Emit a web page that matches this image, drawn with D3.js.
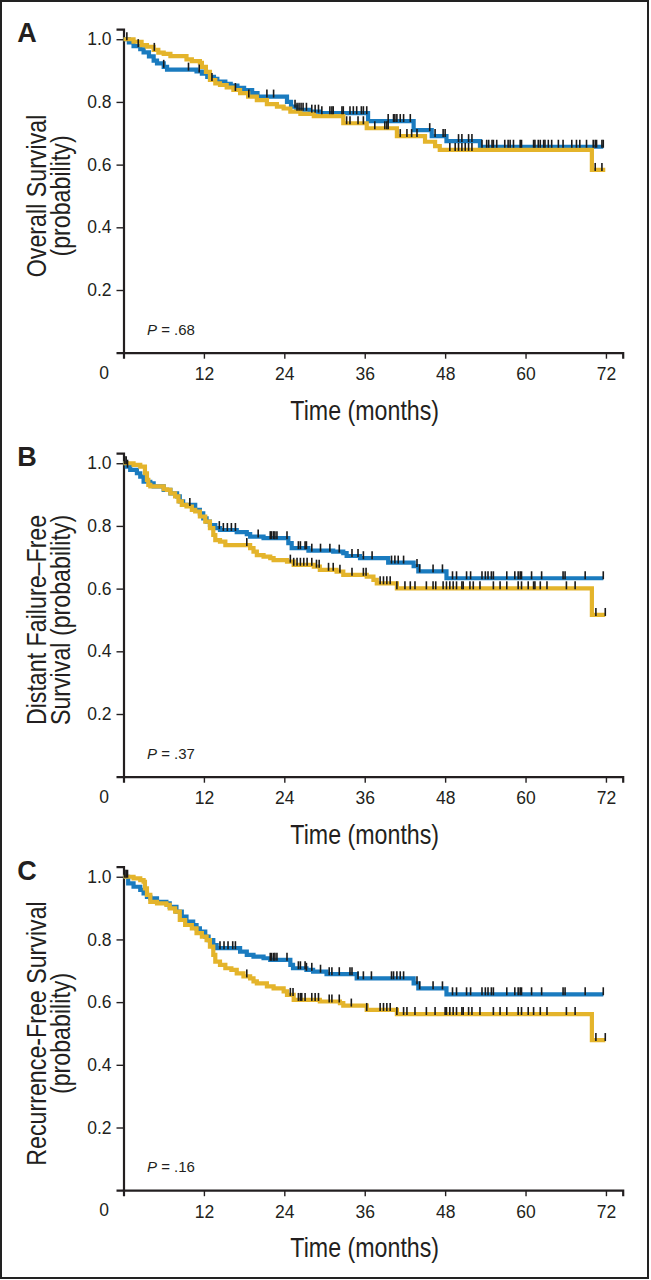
<!DOCTYPE html>
<html><head><meta charset="utf-8">
<script src="https://cdn.jsdelivr.net/npm/d3@7"></script>
<style>
html,body{margin:0;padding:0;background:#fff;}
svg{display:block;}
</style></head>
<body>
<svg id="chart" width="651" height="1280"></svg>
<script>
// ---------------- DATA ----------------
const panelLetters = ["A", "B", "C"];
const yTitles = [
  ["Overall Survival", "(probability)"],
  ["Distant Failure\u2013Free", "Survival (probability)"],
  ["Recurrence-Free Survival", "(probability)"]
];
const pValues = [".68", ".37", ".16"];
const xTickValues = [12, 24, 36, 48, 60, 72];
const xZeroLabel = "0";
const yTickValues = [0.2, 0.4, 0.6, 0.8, 1.0];
const xTitle = "Time (months)";

// Panel A – Overall survival
const osBlue = [[0,1],[0.8,0.99],[1.5,0.978],[2.5,0.968],[3,0.958],[3.8,0.945],[4.5,0.932],[5,0.923],[6,0.912],[6.5,0.903],[10.9,0.897],[11.7,0.89],[12.5,0.88],[13.5,0.874],[14,0.865],[15.2,0.858],[16,0.852],[17,0.845],[18,0.838],[19.2,0.828],[20,0.817],[24.4,0.80],[25,0.785],[25.8,0.775],[27.8,0.769],[29.3,0.764],[36.5,0.739],[43.3,0.71],[46,0.691],[48.2,0.675],[53.2,0.657]];
const osBlueEnd = 71.6;
const osYellow = [[0,1],[1.5,0.992],[2.7,0.981],[3.5,0.976],[4.5,0.966],[5.2,0.957],[6,0.953],[7,0.946],[9.4,0.936],[10.2,0.93],[11.4,0.925],[11.7,0.912],[12.3,0.896],[12.9,0.87],[13.7,0.859],[14.4,0.854],[15.4,0.846],[16.4,0.838],[17.4,0.828],[18.6,0.817],[19.9,0.806],[21.4,0.793],[22.9,0.785],[23.9,0.779],[24.9,0.769],[26.4,0.762],[28.4,0.755],[32.8,0.732],[36.3,0.716],[40.8,0.691],[45,0.673],[46.5,0.659],[47.2,0.647],[69.9,0.583]];
const osYellowEnd = 71.9;
const osBlueCensor = [0.5,2.2,6.0,9.7,11.3,21.4,22.4,25.6,25.9,26.2,26.5,26.8,27.3,28.1,28.6,29.1,29.6,30.8,31.1,31.3,32.6,32.8,33.8,34.3,34.8,35.5,35.8,36.3,39.5,40.3,40.5,40.8,41.3,41.8,42.8,45.7,46.5,47.7,48.0,50.0,50.5,51.5,52.0,53.5,54.2,54.5,55.0,55.2,55.7,56.9,57.4,57.7,58.2,59.2,59.4,61.2,61.4,61.9,62.2,62.7,62.9,63.4,63.9,64.9,65.6,66.9,67.6,68.1,69.1,70.1,70.4,70.6,71.4,71.6];
const osYellowCensor = [4.6,13.2,16.7,18.7,33.3,33.8,35.0,35.8,37.5,39.0,39.3,39.5,41.3,42.3,43.0,43.8,48.7,49.5,50.0,50.5,51.0,51.5,52.0,70.4,71.4];

// Panel B – Distant failure-free survival
const dffsBlue = [[0,1],[0.5,0.989],[1,0.979],[2,0.968],[2.5,0.957],[3,0.941],[4,0.936],[4.5,0.926],[6,0.915],[7,0.904],[8,0.894],[8.4,0.878],[8.9,0.867],[10.7,0.851],[11.4,0.84],[11.9,0.824],[12.4,0.814],[12.9,0.803],[13.7,0.793],[14.4,0.787],[16.9,0.78],[18.4,0.774],[18.9,0.766],[20.9,0.761],[24.6,0.745],[25.1,0.729],[27.6,0.721],[31.3,0.718],[32.8,0.713],[33.3,0.704],[35.3,0.697],[39.5,0.683],[43.3,0.672],[44.0,0.655],[48.2,0.633]];
const dffsBlueEnd = 71.6;
const dffsYellow = [[0,1],[1.5,0.995],[2.5,0.989],[3.2,0.968],[3.5,0.947],[3.7,0.931],[4,0.926],[6,0.917],[6.5,0.915],[7,0.904],[7.7,0.894],[8.2,0.878],[8.7,0.867],[9.4,0.862],[10.2,0.851],[10.7,0.846],[11.4,0.83],[12.2,0.814],[12.9,0.793],[13.4,0.771],[13.7,0.755],[14.4,0.75],[15.2,0.739],[18.9,0.729],[19.4,0.718],[19.9,0.707],[20.9,0.702],[21.9,0.697],[22.4,0.691],[24.4,0.686],[25.4,0.676],[28.4,0.67],[29.3,0.66],[31.8,0.654],[32.8,0.644],[36.3,0.638],[37.3,0.628],[37.8,0.617],[40.8,0.601],[69.9,0.516]];
const dffsYellowEnd = 71.9;
const dffsBlueCensor = [0.2,0.4,0.6,9.9,14.3,14.9,15.5,16.1,16.7,20.1,21.9,22.1,22.4,22.6,22.9,24.4,26.1,26.4,27.1,27.3,28.1,29.4,30.8,32.2,34.1,35.0,35.8,37.1,40.0,40.5,41.0,41.8,43.8,44.2,46.2,47.6,49.1,49.7,51.2,51.8,53.5,54.0,54.4,54.9,55.2,57.2,58.4,58.9,59.2,59.4,60.9,62.4,65.6,65.9,68.9,71.6];
const dffsYellowCensor = [18.4,24.9,25.4,25.9,26.4,26.9,27.4,28.1,28.8,29.2,30.6,31.3,32.3,34.1,35.8,36.2,38.3,38.8,39.3,39.8,40.8,42.0,42.8,43.5,45.2,46.2,46.6,47.7,48.2,48.7,49.2,49.7,50.5,50.7,51.7,52.2,53.2,55.2,56.2,57.2,58.9,59.4,60.4,61.2,61.4,62.2,63.2,66.1,67.4,70.5,71.9];

// Panel C – Recurrence-free survival
const rfsBlue = [[0,1],[0.7,0.979],[1.5,0.968],[2.5,0.958],[3,0.947],[3.5,0.936],[4,0.931],[5,0.92],[6.4,0.915],[6.9,0.904],[7.9,0.889],[8.7,0.873],[9.4,0.857],[10.4,0.846],[10.9,0.835],[11.4,0.825],[12.2,0.809],[12.7,0.798],[13.4,0.782],[13.9,0.772],[17.4,0.761],[18.4,0.751],[19.4,0.745],[20.9,0.74],[21.9,0.735],[24.9,0.719],[25.3,0.708],[27.3,0.703],[28.3,0.697],[30.3,0.689],[34.8,0.676],[43.3,0.66],[44.0,0.644],[48.2,0.625]];
const rfsBlueEnd = 71.6;
const rfsYellow = [[0,1],[1.5,0.995],[2.5,0.989],[3,0.984],[3.2,0.963],[3.5,0.942],[4,0.92],[5,0.915],[6.4,0.91],[6.9,0.899],[7.7,0.889],[8.4,0.862],[9.2,0.846],[10.2,0.835],[10.9,0.82],[11.7,0.809],[12.4,0.798],[12.9,0.777],[13.4,0.751],[13.7,0.729],[14.4,0.719],[15.2,0.708],[16.1,0.703],[16.9,0.692],[17.9,0.682],[18.9,0.676],[19.4,0.666],[19.9,0.66],[21.4,0.65],[22.4,0.644],[23.9,0.634],[24.4,0.623],[25.4,0.607],[29.3,0.602],[32.3,0.597],[32.8,0.589],[36.3,0.575],[40.8,0.562],[69.9,0.479]];
const rfsYellowEnd = 71.9;
const rfsBlueCensor = [0.2,0.4,0.6,14.4,15.0,15.6,16.3,16.7,21.9,22.1,22.4,22.6,22.9,24.4,26.1,26.4,27.1,27.3,28.1,29.4,30.7,31.1,32.2,33.8,34.1,35.0,35.8,37.0,40.0,40.3,40.8,41.3,41.8,43.8,44.2,46.2,47.6,49.1,49.7,51.2,51.8,53.5,54.0,54.4,54.9,55.2,57.2,58.4,58.9,59.2,59.4,60.9,62.4,65.6,65.9,68.9,71.6];
const rfsYellowCensor = [18.4,24.9,25.3,26.1,26.4,26.6,27.1,28.1,28.6,29.1,30.7,31.1,32.2,34.0,36.3,38.3,38.8,39.3,39.8,40.8,41.8,42.3,43.5,45.2,46.5,48.0,48.2,48.7,49.2,49.7,50.5,50.7,51.5,52.0,53.2,55.2,56.2,57.2,58.9,59.4,60.4,61.2,62.2,63.2,66.1,67.4,70.5,71.9];

// ---------------- LAYOUT / STYLE ----------------
const BLUE = "#1a7bbf", YELLOW = "#e4b42b", AXIS = "#231f20";
const FONT = "Liberation Sans, Arial, Helvetica, sans-serif";
const panelTops = [0, 424, 837.5];
const panels = [
  {blue: osBlue, blueEnd: osBlueEnd, yellow: osYellow, yellowEnd: osYellowEnd, bc: osBlueCensor, yc: osYellowCensor},
  {blue: dffsBlue, blueEnd: dffsBlueEnd, yellow: dffsYellow, yellowEnd: dffsYellowEnd, bc: dffsBlueCensor, yc: dffsYellowCensor},
  {blue: rfsBlue, blueEnd: rfsBlueEnd, yellow: rfsYellow, yellowEnd: rfsYellowEnd, bc: rfsBlueCensor, yc: rfsYellowCensor}
];

const svg = d3.select("#chart");
svg.append("rect").attr("x", 0).attr("y", 0).attr("width", 651).attr("height", 1280).attr("fill", "#fff");
svg.append("rect").attr("x", 1).attr("y", 1).attr("width", 647).attr("height", 1277)
  .attr("fill", "none").attr("stroke", "#222").attr("stroke-width", 2);

const x = d3.scaleLinear().domain([0, 74.5]).range([123.5, 622.7]);
const y = d3.scaleLinear().domain([0, 1.032]).range([352.7, 29.2]);

function survAt(curve, t) {
  let s = curve[0][1];
  for (const p of curve) { if (p[0] <= t) s = p[1]; else break; }
  return s;
}

const line = d3.line().x(d => x(d[0])).y(d => y(d[1])).curve(d3.curveStepAfter);
const SX = 0.86; // horizontal condensing for the axis titles

panels.forEach((p, i) => {
  const g = svg.append("g").attr("transform", `translate(0,${panelTops[i]})`);

  // panel letter
  g.append("text").attr("x", 27).attr("y", 42).attr("text-anchor", "middle")
    .attr("font-family", FONT).attr("font-weight", "bold")
    .attr("font-size", 27).attr("fill", AXIS).text(panelLetters[i]);

  // axes
  const yAxis = d3.axisLeft(y).tickValues(yTickValues).tickFormat(d3.format(".1f")).tickSizeOuter(0).tickSize(7).tickPadding(5);
  const xAxis = d3.axisBottom(x).tickValues(xTickValues).tickFormat(d3.format("d")).tickSizeOuter(0).tickSize(6).tickPadding(6);
  const ya = g.append("g").attr("transform", `translate(${x(0)},0)`).call(yAxis);
  const xa = g.append("g").attr("transform", `translate(0,${y(0)})`).call(xAxis);
  [ya, xa].forEach(a => {
    a.attr("font-family", FONT).attr("font-size", 17.5);
    a.select(".domain").attr("stroke", AXIS).attr("stroke-width", 2.2);
    a.selectAll(".tick line").attr("stroke", AXIS).attr("stroke-width", 1.4);
    a.selectAll(".tick text").attr("fill", AXIS);
  });
  xa.selectAll(".tick text").attr("dy", "0.9em");
  g.append("text").attr("x", 104).attr("y", y(0) + 26).attr("text-anchor", "middle")
    .attr("font-family", FONT).attr("font-size", 17.5).attr("fill", AXIS)
    .text(xZeroLabel);

  // axis titles (condensed look)
  g.append("text").attr("transform", `translate(${(x(0) + x(72)) / 2},${y(0) + 67}) scale(${SX},1)`)
    .attr("text-anchor", "middle")
    .attr("font-family", FONT).attr("font-size", 27).attr("fill", AXIS)
    .text(xTitle);
  const ymid = (y(0) + y(1)) / 2;
  yTitles[i].forEach((t, k) => {
    g.append("text").attr("transform", `translate(${46 + k * 24},${ymid}) rotate(-90) scale(${SX},1)`)
      .attr("text-anchor", "middle")
      .attr("font-family", FONT).attr("font-size", 27).attr("fill", AXIS)
      .text(t);
  });

  // P value
  const pt = g.append("text").attr("x", 147).attr("y", y(0) - 18)
    .attr("font-family", FONT).attr("font-size", 15).attr("fill", AXIS);
  pt.append("tspan").attr("font-style", "italic").text("P");
  pt.append("tspan").text(" = " + pValues[i]);

  // curves
  const bData = p.blue.concat([[p.blueEnd, p.blue[p.blue.length - 1][1]]]);
  const yData = p.yellow.concat([[p.yellowEnd, p.yellow[p.yellow.length - 1][1]]]);
  g.append("path").datum(bData).attr("d", line).attr("fill", "none").attr("stroke", BLUE).attr("stroke-width", 4.2);
  g.append("path").datum(yData).attr("d", line).attr("fill", "none").attr("stroke", YELLOW).attr("stroke-width", 4.2);

  // censor ticks
  const cens = p.bc.map(t => [t, survAt(p.blue, t)]).concat(p.yc.map(t => [t, survAt(p.yellow, t)]));
  g.append("g").selectAll("line").data(cens).join("line")
    .attr("x1", d => x(d[0])).attr("x2", d => x(d[0]))
    .attr("y1", d => y(d[1]) - 7).attr("y2", d => y(d[1]) + 1)
    .attr("stroke", "#1a1a1a").attr("stroke-width", 1.6);
});
</script>
</body></html>
